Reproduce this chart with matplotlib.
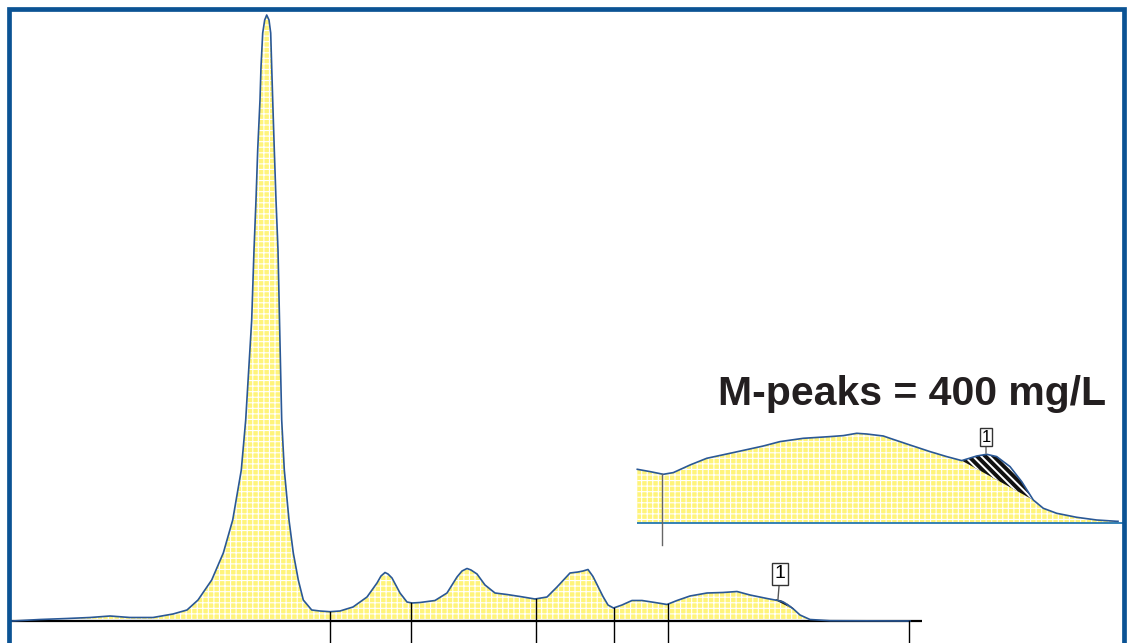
import numpy as np
import matplotlib.pyplot as plt
from matplotlib.lines import Line2D

plt.rcParams['font.family'] = ['Liberation Sans', 'DejaVu Sans']
plt.rcParams['hatch.linewidth'] = 0.8

# densitometry scan of the serum electrophoresis gel (position, absorbance)
pos = [12, 40, 67, 90, 110, 130, 153, 173, 187, 198, 211.7, 223.3, 232.7, 241.3,
       245.7, 251.7, 254, 256, 257.7, 260, 261, 262.7, 264.7, 266.7, 269, 270.7,
       271.7, 272.7, 274.3, 276, 278, 279.5, 281.7, 284.3, 289, 293.3, 298.3,
       303.3, 311.7, 320, 330, 340, 353, 367, 377, 381, 385, 388, 392, 400, 407,
       412, 420, 435, 447, 457, 462, 467, 471, 477, 485, 495, 507, 520, 535, 547,
       557, 570, 578, 583, 588, 593, 598, 603, 608, 613.5, 622, 632, 642, 655,
       667, 677, 690, 707, 723, 737, 750, 767, 775, 778, 783, 788, 794, 800, 810,
       830, 910]
absb = [0, 1.5, 2.5, 3.5, 5, 3.5, 3.5, 7, 11, 21, 41, 68, 101, 151,
        201, 301, 371, 421, 471, 521, 554, 588, 601, 606, 601, 588,
        554, 521, 471, 421, 371, 301, 201, 151, 101, 68, 41,
        21, 11, 10, 9.3, 10, 14, 24, 38, 45, 48.5, 47, 43, 28, 19,
        18, 18.5, 20.5, 28, 44, 50, 52.5, 51, 47, 36, 28, 26.5, 24.5, 22, 24,
        34, 48, 49, 50, 51.5, 44.5, 34.5, 24.5, 16, 13, 16, 20.5, 20.5, 18.5,
        16.5, 20.5, 25, 28, 28.5, 29.5, 26, 22.5, 21, 20.5, 19, 16, 11.5, 6, 1.5,
        0.3, 0]

# fraction delimiters
fractions = [330, 411, 536, 614, 668, 909]
# monoclonal band limits on the scan
mpeak = (775, 794)

# enlarged gamma region
zpos = [637.3, 650, 663.3, 673.3, 690, 706.7, 730, 763.3, 780, 803.3, 830, 843.3,
        856.7, 866.7, 883.3, 890, 910, 930, 946.7, 961.7, 976.7, 986.7, 996.7,
        1010, 1021.7, 1033.3, 1043.3, 1056.7, 1076.7, 1096.7, 1116.7, 1118]
zabs = [54, 51.7, 49, 50.7, 58.3, 65, 70, 77.3, 81.7, 85, 86.7, 87.7,
        90, 89.3, 87.3, 85, 78.3, 71.7, 66.7, 62.7, 67.3, 69, 66.7,
        56.7, 41.7, 23.3, 15, 10, 6, 3.3, 2, 2]
zboundary = 661.7
zmpeak = (961.7, 1033.3)

yellow = '#fff47a'
trace = '#2a5896'
frame = '#0b5394'

pos = np.array(pos)
absb = np.array(absb)
zpos = np.array(zpos)
zabs = np.array(zabs)

fig = plt.figure(figsize=(11.32, 6.43), dpi=100)

# main scan
ax = fig.add_axes([0, 0, 1, 1])
ax.set_xlim(0, 1132)
ax.set_ylim(-22, 621)
ax.axis('off')

ax.fill_between(pos, 0, absb, facecolor=yellow, edgecolor='white', hatch='+++', linewidth=0)
ax.plot([10, 922], [0, 0], color='black', lw=1.6, solid_capstyle='butt')
ax.plot(pos, absb, color=trace, lw=1.2)
for f in fractions:
    ax.plot([f, f], [np.interp(f, pos, absb), -30], color='black', lw=1)

sel = (pos >= mpeak[0]) & (pos <= mpeak[1])
bg = np.interp(pos[sel], mpeak, np.interp(mpeak, pos, absb))
with plt.rc_context({'hatch.linewidth': 1.4}):
    ax.fill_between(pos[sel], bg, absb[sel] + 1, facecolor='#111111', edgecolor='white',
                    hatch='\\\\\\\\', linewidth=0)
ax.annotate('1', xy=(778, 22), xytext=(780, 47), ha='center', va='center', fontsize=14,
            bbox=dict(boxstyle='square,pad=0.12', fc='white', ec='#333333', lw=1),
            arrowprops=dict(arrowstyle='-', color='#555555', lw=1, shrinkA=0, shrinkB=0))

# enlarged gamma region
axz = fig.add_axes([0, 0, 1, 1])
axz.set_xlim(0, 1132)
axz.set_ylim(-119.7, 523.3)
axz.axis('off')
axz.patch.set_alpha(0)

axz.fill_between(zpos, 0, zabs, facecolor=yellow, edgecolor='white', hatch='+++', linewidth=0)
zsel = (zpos >= zmpeak[0]) & (zpos <= zmpeak[1])
zbg = np.interp(zpos[zsel], zmpeak, np.interp(zmpeak, zpos, zabs))
with plt.rc_context({'hatch.linewidth': 1.4}):
    axz.fill_between(zpos[zsel], zbg, zabs[zsel], facecolor='#111111', edgecolor='white',
                     hatch='\\\\\\\\', linewidth=0)
axz.plot([637, 1125], [0, 0], color='#2479b5', lw=1.3, solid_capstyle='butt')
axz.plot(zpos, zabs, color=trace, lw=1.2)
axz.plot([zboundary, zboundary], [np.interp(zboundary, zpos, zabs), -21.7], color='#666666', lw=1)
axz.annotate('1', xy=(986, 70), xytext=(986, 86), ha='center', va='center', fontsize=12,
             bbox=dict(boxstyle='square,pad=0.1', fc='white', ec='#333333', lw=1),
             arrowprops=dict(arrowstyle='-', color='#666666', lw=1, shrinkA=0, shrinkB=0))
axz.text(718, 118.3, 'M-peaks = 400 mg/L', fontsize=29.5, fontweight='bold',
         color='#231f20', ha='left', va='baseline')

# blue frame, open at the bottom
fx = [8.8 / 1132, 8.8 / 1132, 1124 / 1132, 1124 / 1132]
fy = [0, 1 - 8.5 / 643, 1 - 8.5 / 643, 0]
fig.add_artist(Line2D(fx, fy, transform=fig.transFigure, color=frame, lw=3.4,
                      solid_joinstyle='miter'))

fig.savefig('out.png', dpi=100)
